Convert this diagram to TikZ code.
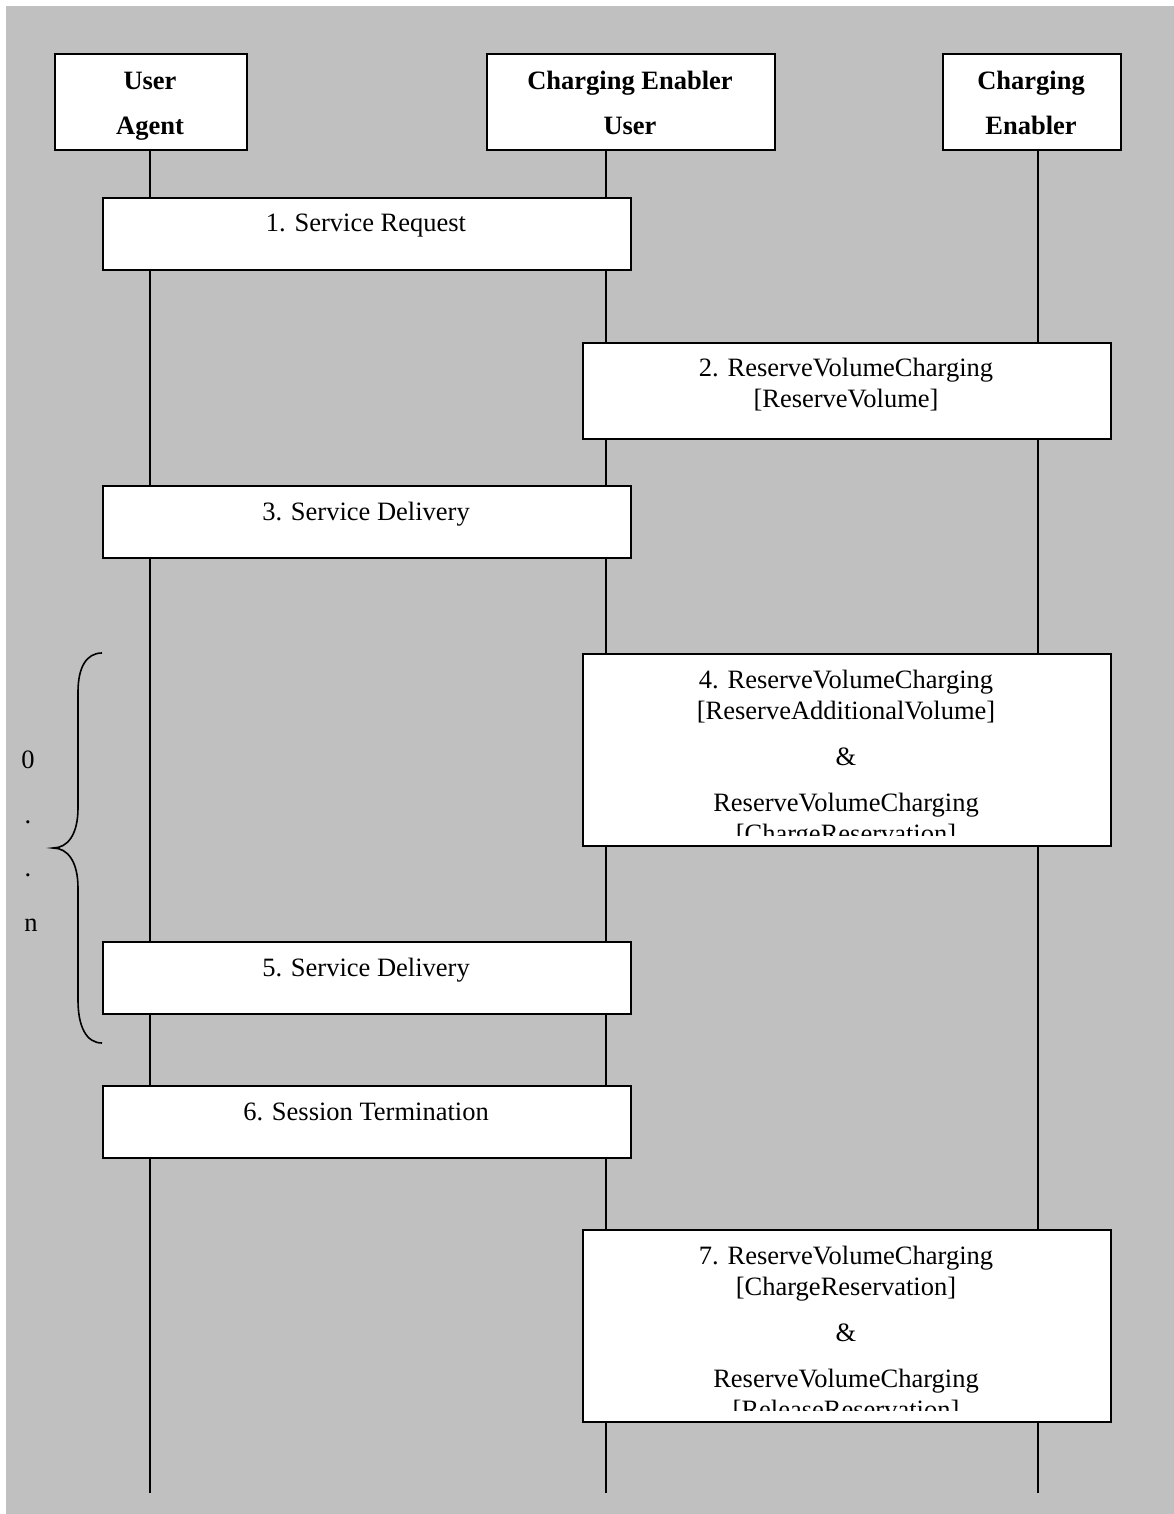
\documentclass[tikz,border=0pt]{standalone}
\usepackage{fontspec}
\setmainfont{Liberation Serif}
\definecolor{bggray}{HTML}{C0C0C0}
\begin{document}
\begin{tikzpicture}[x=1pt,y=-1pt,
  lifeline/.style={line width=1.6pt},
  msgbox/.style={draw=black, fill=white, line width=2pt, inner sep=0pt, anchor=north west},
  lbl/.style={font=\fontsize{26.5}{31}\selectfont, anchor=base, inner sep=0pt},
  hdr/.style={font=\fontsize{26.5}{31}\selectfont\bfseries, anchor=base, inner sep=0pt},
  bracestyle/.style={line width=1.6pt}]
\useasboundingbox (0,0) rectangle (1174,1514);
\fill[bggray] (6,6) rectangle (1174,1514);

% header boxes
\node[msgbox, minimum width=192pt, minimum height=96pt] (ua) at (54,53.5) {};
\node[msgbox, minimum width=288pt, minimum height=96pt] (ceu) at (486,53.5) {};
\node[msgbox, minimum width=178pt, minimum height=96pt] (ce) at (942,53.5) {};
\node[hdr] (uaT1) at (150,90) {User};
\node[hdr] (uaT2) at (150,135) {Agent};
\node[hdr] (ceuT1) at (630,90) {Charging Enabler};
\node[hdr] (ceuT2) at (630,135) {User};
\node[hdr] (ceT1) at (1031,90) {Charging};
\node[hdr] (ceT2) at (1031,135) {Enabler};

% lifelines
\coordinate (uaEnd) at (150,1493);
\coordinate (ceuEnd) at (606,1493);
\coordinate (ceEnd) at (1038,1493);
\draw[lifeline] (uaEnd |- ua.south) -- (uaEnd);
\draw[lifeline] (ceuEnd |- ceu.south) -- (ceuEnd);
\draw[lifeline] (ceEnd |- ce.south) -- (ceEnd);

% message boxes
\node[msgbox, minimum width=528pt, minimum height=72pt] (m1) at (102,197) {};
\node[lbl] (m1t) at (366,232) {1. Service Request};

\node[msgbox, minimum width=528pt, minimum height=96pt] (m2) at (582,341.5) {};
\node[lbl] (m2t1) at (846,376.5) {2. ReserveVolumeCharging};
\node[lbl] (m2t2) at (846,407.5) {[ReserveVolume]};

\node[msgbox, minimum width=528pt, minimum height=72pt] (m3) at (102,485) {};
\node[lbl] (m3t) at (366,520) {3. Service Delivery};

\node[msgbox, minimum width=528pt, minimum height=192pt] (m4) at (582,653) {};
\begin{scope}
  \clip (582,653) rectangle (1110,835);
  \node[lbl] (m4t1) at (846,688) {4. ReserveVolumeCharging};
  \node[lbl] (m4t2) at (846,719) {[ReserveAdditionalVolume]};
  \node[lbl] (m4t3) at (846,765.5) {\&};
  \node[lbl] (m4t4) at (846,811.5) {ReserveVolumeCharging};
  \node[lbl] (m4t5) at (846,842.5) {[ChargeReservation]};
\end{scope}

\node[msgbox, minimum width=528pt, minimum height=72pt] (m5) at (102,941) {};
\node[lbl] (m5t) at (366,976) {5. Service Delivery};

\node[msgbox, minimum width=528pt, minimum height=72pt] (m6) at (102,1085) {};
\node[lbl] (m6t) at (366,1120) {6. Session Termination};

\node[msgbox, minimum width=528pt, minimum height=192pt] (m7) at (582,1229) {};
\begin{scope}
  \clip (582,1229) rectangle (1110,1410);
  \node[lbl] (m7t1) at (846,1264) {7. ReserveVolumeCharging};
  \node[lbl] (m7t2) at (846,1295) {[ChargeReservation]};
  \node[lbl] (m7t3) at (846,1341.5) {\&};
  \node[lbl] (m7t4) at (846,1387.5) {ReserveVolumeCharging};
  \node[lbl] (m7t5) at (846,1418.5) {[ReleaseReservation]};
\end{scope}

% loop brace
\draw[bracestyle] (102,653) .. controls (86,653) and (78,668) .. (78,692)
  -- (78,808) .. controls (78,834) and (68,848) .. (53,848)
  .. controls (68,848) and (78,862) .. (78,888)
  -- (78,1000) .. controls (78,1026) and (86,1043) .. (102,1043);
\node[lbl] (l0) at (28,768) {0};
\node[lbl] (l1) at (28,823) {.};
\node[lbl] (l2) at (28,876) {.};
\node[lbl] (l3) at (31,931) {n};
\end{tikzpicture}
\end{document}
